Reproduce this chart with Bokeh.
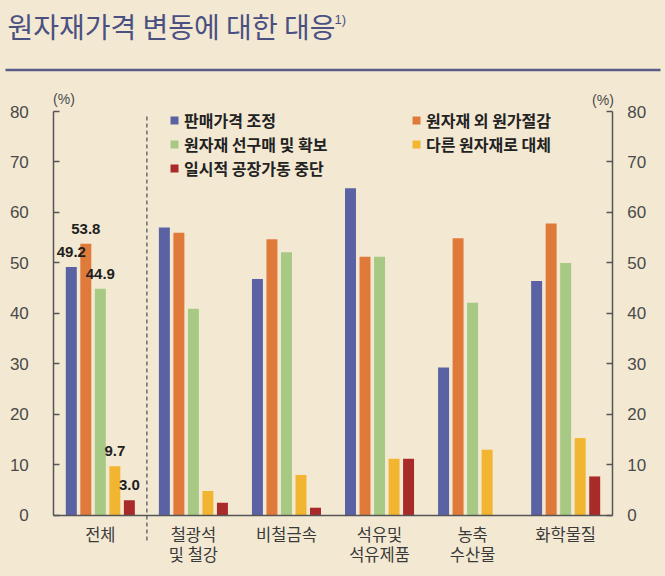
from bokeh.plotting import figure
from bokeh.models import (Range1d, FixedTicker, Legend, LegendItem, LinearAxis, Label,
                          ColumnDataSource, GlobalInlineStyleSheet)
from bokeh.embed import file_html
from bokeh.resources import INLINE
from bokeh.core.properties import value

# ---------------- data ----------------
title_text = "원자재가격 변동에 대한 대응"
title_note = "1)"
categories = ["전체", "철광석\n및 철강", "비철금속", "석유및\n석유제품", "농축\n수산물", "화학물질"]
series_names = ["판매가격 조정", "원자재 외 원가절감", "원자재 선구매 및 확보",
                "다른 원자재로 대체", "일시적 공장가동 중단"]
price_adjust = [49.2, 57.0, 46.8, 64.8, 29.3, 46.4]
cost_cut = [53.8, 56.0, 54.7, 51.2, 54.9, 57.8]
pre_buy = [44.9, 40.9, 52.1, 51.2, 42.1, 50.0]
substitute = [9.7, 4.8, 8.0, 11.2, 13.0, 15.3]
halt = [3.0, 2.5, 1.5, 11.2, 0.0, 7.7]
y_ticks = [0, 10, 20, 30, 40, 50, 60, 70, 80]
unit_label = "(%)"

# ---------------- style / layout ----------------
BG = "#F3E9D3"
colors = ["#5A62A3", "#E07A3B", "#A8C984", "#F2B531", "#A82B2A"]
KR = "Noto Sans CJK KR"
NUM = "Liberation Sans"
AX = "#555555"
TITLE_C = "#4A5082"

W, H = 665, 576
n_cat = len(categories)
Y_MAX = 80
# pixel placement of the plotting area (axis lines)
PX_L, PX_R = 53.3, 611.7
PY_0, PY_TOP = 514.8, 111.0
SX = (PX_R - PX_L) / n_cat
SY = (PY_0 - PY_TOP) / Y_MAX
x_start = -0.5 - PX_L / SX
x_end = n_cat - 0.5 + (W - PX_R) / SX
y_end = Y_MAX + PY_TOP / SY
y_start = -(H - PY_0) / SY


def X(px):
    return x_start + px / SX


def Y(py):
    return y_end - py / SY


series = [price_adjust, cost_cut, pre_buy, substitute, halt]
pitch = 0.156
bar_w = 0.118

p = figure(width=W, height=H, x_range=Range1d(x_start, x_end),
           y_range=Range1d(y_start, y_end),
           output_backend="svg", toolbar_location=None, min_border=0,
           background_fill_color=BG, border_fill_color=BG, outline_line_color=None)
p.grid.visible = False

# header
p.text(x=[X(7)], y=[Y(25.5)], text=[title_text], text_font=value(KR), text_font_size="28px",
       text_baseline="middle", text_align="left", text_color=TITLE_C)
p.text(x=[X(334)], y=[Y(19)], text=[title_note], text_font=value(NUM), text_font_size="13px",
       text_baseline="middle", text_align="left", text_color=TITLE_C)
p.segment(x0=[X(5)], y0=[Y(69.5)], x1=[X(660)], y1=[Y(69.5)], line_color="#575C88",
          line_width=2.5)

renderers = []
for j, (vals, col) in enumerate(zip(series, colors)):
    xs = [i + (j - 2) * pitch for i in range(n_cat)]
    src = ColumnDataSource(dict(x=xs, top=vals))
    r = p.vbar(x="x", top="top", width=bar_w, bottom=0, source=src,
               fill_color=col, line_color=None)
    renderers.append(r)

# value labels for the first category
lab_x = [0 + (j - 2) * pitch for j in range(len(series))]
lab_y = [s[0] for s in series]
lab_t = ["%.1f" % v for v in lab_y]
p.text(x=lab_x, y=lab_y, text=lab_t, text_font=value(NUM), text_font_size="15px",
       text_font_style="bold", text_align="center", text_baseline="alphabetic",
       y_offset=-15, text_color="#1E1E1E")

# separator between total and sectors
sep_x = 0.5
p.segment(x0=[sep_x], y0=[-5], x1=[sep_x], y1=[Y_MAX - 0.4], line_color="#6B6B6B",
          line_width=1.5, line_dash="4 3")

# x axes: two label lines
line1 = {i: c.split("\n")[0] for i, c in enumerate(categories)}
line2 = {i: (c.split("\n")[1] if "\n" in c else " ") for i, c in enumerate(categories)}

xa = p.xaxis[0]
xb = LinearAxis()
p.add_layout(xb, "below")
for ax, labels, stand in ((xa, line1, 1), (xb, line2, 21)):
    ax.fixed_location = 0
    ax.bounds = (-0.5, n_cat - 0.5)
    ax.ticker = FixedTicker(ticks=list(range(n_cat)))
    ax.major_label_overrides = labels
    ax.major_tick_line_color = None
    ax.minor_tick_line_color = None
    ax.major_label_text_font = KR
    ax.major_label_text_font_size = "16.5px"
    ax.major_label_text_color = "#3A3A3A"
    ax.major_label_standoff = stand
xa.axis_line_color = AX
xa.axis_line_width = 1.5
xb.axis_line_color = None

# y axes
ya = p.yaxis[0]
ya.fixed_location = -0.5
ra = LinearAxis(fixed_location=n_cat - 0.5)
p.add_layout(ra, "right")
for ax, stand in ((ya, 25), (ra, 15)):
    ax.bounds = (0, Y_MAX)
    ax.ticker = FixedTicker(ticks=y_ticks)
    ax.major_tick_in = 6
    ax.major_tick_out = 0
    ax.minor_tick_line_color = None
    ax.axis_line_color = AX
    ax.axis_line_width = 1.5
    ax.major_tick_line_color = AX
    ax.major_tick_line_width = 1.5
    ax.major_label_text_font = NUM
    ax.major_label_text_font_size = "17px"
    ax.major_label_text_color = "#4A4A4A"
    ax.major_label_standoff = stand

p.add_layout(Label(x=X(63.5), y=Y(98.5), text=unit_label, text_font=NUM,
                   text_font_size="14px", text_color="#4A4A4A",
                   text_align="center", text_baseline="middle"))
p.add_layout(Label(x=X(602.5), y=Y(99.5), text=unit_label, text_font=NUM,
                   text_font_size="14px", text_color="#4A4A4A",
                   text_align="center", text_baseline="middle"))

legend = Legend(items=[LegendItem(label=nm, renderers=[r]) for nm, r in zip(series_names, renderers)],
                ncols=2, orientation="horizontal", location=(169, 396),
                glyph_width=10, glyph_height=10, label_standoff=5,
                label_width=227, label_height=18, spacing=0, padding=0, margin=0,
                label_text_font=KR, label_text_font_size="16px",
                label_text_font_style="bold", label_text_color="#222222",
                background_fill_alpha=0, border_line_color=None)
p.add_layout(legend)
p.stylesheets = [GlobalInlineStyleSheet(css="body{background-color:#F3E9D3;}")]

open("out.html", "w").write(file_html(p, INLINE))
